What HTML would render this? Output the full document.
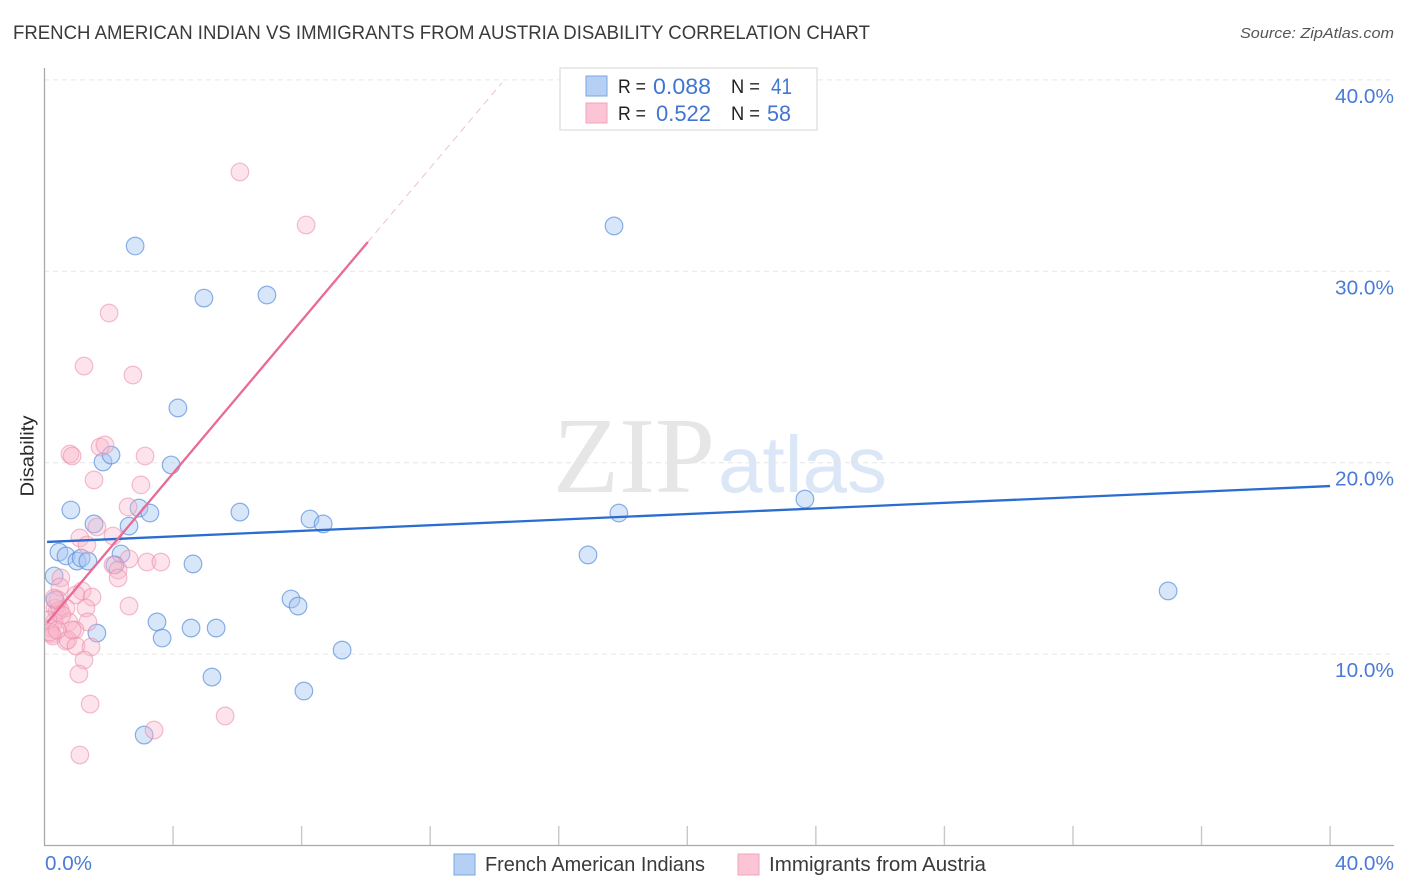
<!DOCTYPE html>
<html lang="en">
<head>
<meta charset="utf-8">
<title>French American Indian vs Immigrants from Austria Disability Correlation Chart</title>
<style>
html,body{margin:0;padding:0;background:#fff;}
svg{display:block;font-family:"Liberation Sans",sans-serif;}
</style>
</head>
<body>
<svg id="chart" xmlns="http://www.w3.org/2000/svg" width="1406" height="892" viewBox="0 0 1406 892">
  <defs>
    <clipPath id="plot-clip"><rect x="45" y="60" width="1349" height="786"/></clipPath>
  </defs>
  <rect width="1406" height="892" fill="#fff"/>
  <text x="13" y="39" font-size="19.5" fill="#3a3a3a" textLength="857" lengthAdjust="spacingAndGlyphs">FRENCH AMERICAN INDIAN VS IMMIGRANTS FROM AUSTRIA DISABILITY CORRELATION CHART</text>
  <text x="1394" y="38" font-size="15" font-style="italic" fill="#555" text-anchor="end" textLength="154" lengthAdjust="spacingAndGlyphs">Source: ZipAtlas.com</text>

  <g>
    <text x="553" y="492" font-family="'Liberation Serif',serif" font-size="108" fill="#e6e6e6" textLength="162" lengthAdjust="spacingAndGlyphs">ZIP</text>
    <text x="718" y="492" font-size="80" fill="#dbe7f7" textLength="169" lengthAdjust="spacingAndGlyphs">atlas</text>
  </g>

  <g id="grid"></g>
  <g id="axes"></g>
  <g id="ylabels"></g>
  <g id="xlabels"></g>
  <g id="blue-points" clip-path="url(#plot-clip)"></g>
  <g id="pink-points" clip-path="url(#plot-clip)"></g>
  <g id="trends"></g>

  <text transform="translate(33.5,456) rotate(-90)" font-size="18.5" fill="#2a2a2a" text-anchor="middle" textLength="81" lengthAdjust="spacingAndGlyphs">Disability</text>

  <g>
    <rect x="560" y="68" width="257" height="62" fill="#fff" stroke="#dcdcdc" stroke-width="1.2"/>
    <rect x="586" y="76" width="21" height="20" fill="#b5d0f4" stroke="#79a7e2" stroke-width="1"/>
    <rect x="586" y="103" width="21" height="20" fill="#fbc5d6" stroke="#f0a4bc" stroke-width="1"/>
    <text x="618" y="93" font-size="19" fill="#222" textLength="28" lengthAdjust="spacingAndGlyphs">R =</text>
    <text x="653" y="94" font-size="22" fill="#4076d2" textLength="58" lengthAdjust="spacingAndGlyphs">0.088</text>
    <text x="731" y="93" font-size="19" fill="#222" textLength="29" lengthAdjust="spacingAndGlyphs">N =</text>
    <text x="771" y="94" font-size="22" fill="#4076d2" textLength="21" lengthAdjust="spacingAndGlyphs">41</text>
    <text x="618" y="120" font-size="19" fill="#222" textLength="28" lengthAdjust="spacingAndGlyphs">R =</text>
    <text x="656" y="121" font-size="22" fill="#4076d2" textLength="55" lengthAdjust="spacingAndGlyphs">0.522</text>
    <text x="731" y="120" font-size="19" fill="#222" textLength="29" lengthAdjust="spacingAndGlyphs">N =</text>
    <text x="767" y="121" font-size="22" fill="#4076d2" textLength="24" lengthAdjust="spacingAndGlyphs">58</text>
  </g>

  <g>
    <rect x="454" y="854" width="21" height="21" fill="#b5d0f4" stroke="#79a7e2" stroke-width="1"/>
    <text x="485" y="871" font-size="20" fill="#3a3a3a" textLength="220" lengthAdjust="spacingAndGlyphs">French American Indians</text>
    <rect x="738" y="854" width="21" height="21" fill="#fbc5d6" stroke="#f0a4bc" stroke-width="1"/>
    <text x="769" y="871" font-size="20" fill="#3a3a3a" textLength="217" lengthAdjust="spacingAndGlyphs">Immigrants from Austria</text>
  </g>
</svg>

<script>
const yTicks = [10, 20, 30, 40];
const yTickLabels = ["10.0%", "20.0%", "30.0%", "40.0%"];
const xTicks = [0, 4, 8, 12, 16, 20, 24, 28, 32, 36, 40];
const xEndTicks = [0, 40];
const xEndLabels = ["0.0%", "40.0%"];

const blueX = [2.82,17.72,4.96,6.92,4.15,1.82,2.07,3.94,0.82,1.54,2.63,2.94,3.28,6.08,8.26,8.67,23.66,17.87,16.91,34.96,0.45,0.67,1.01,1.14,1.35,2.38,2.19,4.62,0.30,7.67,7.89,3.50,4.56,5.34,3.66,1.63,9.26,5.21,8.07,3.10,0.33];
const blueY = [31.32,32.37,28.60,28.76,22.86,20.04,20.40,19.88,17.53,16.80,16.69,17.63,17.37,17.42,17.06,16.80,18.10,17.37,15.18,13.30,15.33,15.13,14.86,15.02,14.86,15.23,14.66,14.71,14.08,12.88,12.51,11.68,11.36,11.36,10.84,11.10,10.21,8.80,8.07,5.77,12.83];

const pinkX = [6.08,8.14,2.01,1.23,2.75,0.79,0.86,1.73,1.88,3.13,1.54,3.00,2.60,1.63,1.10,1.32,2.13,2.63,3.19,3.62,2.13,2.29,2.29,0.51,0.48,1.17,0.98,1.48,2.63,1.29,0.67,0.33,0.39,0.48,0.76,1.35,0.95,0.30,0.17,0.23,0.26,0.67,0.73,0.98,1.45,1.23,1.07,1.42,3.41,5.62,1.10,0.42,0.30,0.54,0.11,0.86,0.17,0.39];
const pinkY = [35.19,32.42,27.82,25.05,24.58,20.45,20.35,20.82,20.93,20.35,19.10,18.84,17.69,16.64,16.07,15.70,16.17,14.97,14.81,14.81,14.66,14.39,13.98,13.98,13.51,13.30,13.09,12.98,12.51,12.41,12.41,12.41,12.20,12.30,11.68,11.68,11.26,11.68,11.36,11.05,10.95,10.68,10.74,10.42,10.37,9.69,8.96,7.39,6.03,6.77,4.73,12.83,12.93,12.04,11.78,11.26,11.15,11.26];

const blueTrendX = [0.08, 40];
const blueTrendY = [15.86, 18.78];
const pinkTrendX = [0.08, 10.06];
const pinkTrendY = [11.63, 31.53];
const pinkDashX = [10.06, 14.23];
const pinkDashY = [31.53, 39.85];

const NS = "http://www.w3.org/2000/svg";
function sx(v) { return 44.5 + v * 32.14; }
function sy(v) { return 845.5 - v * 19.14; }
function make(tag, attrs, parent) {
  const el = document.createElementNS(NS, tag);
  for (const k in attrs) el.setAttribute(k, attrs[k]);
  parent.appendChild(el);
  return el;
}

const grid = document.getElementById("grid");
const axes = document.getElementById("axes");
const ylabels = document.getElementById("ylabels");
const xlabels = document.getElementById("xlabels");
const bluePoints = document.getElementById("blue-points");
const pinkPoints = document.getElementById("pink-points");
const trends = document.getElementById("trends");

yTicks.forEach(function (t, i) {
  const line = make("line", {x1: 44, x2: 1394, y1: sy(t), y2: sy(t), stroke: "#e6e6e6", "stroke-width": 1, "stroke-dasharray": "5 4"}, grid);
  
  
  const label = make("text", {x: 1394, y: sy(t) + 23, "font-size": 20, fill: "#4a7bd6", "text-anchor": "end", textLength: 59, lengthAdjust: "spacingAndGlyphs"}, ylabels);
  
  
  label.textContent = yTickLabels[i];
});

const yAxis = make("line", {x1: 44.5, x2: 44.5, y1: 68, y2: 846, stroke: "#aaa", "stroke-width": 1.3}, axes);


const xAxis = make("line", {x1: 44, x2: 1394, y1: 845.5, y2: 845.5, stroke: "#aaa", "stroke-width": 1.3}, axes);



xTicks.forEach(function (t) {
  if (t === 0) return;
  const tick = make("line", {x1: sx(t), x2: sx(t), y1: 826, y2: 845, stroke: "#c8c8c8", "stroke-width": 1.4}, axes);
  
  
});

xEndTicks.forEach(function (t, i) {
  const label = make("text", {x: i === 0 ? sx(t) + 0.5 : 1394, y: 870, "font-size": 20, fill: "#4a7bd6", "text-anchor": i === 0 ? "start" : "end", textLength: i === 0 ? 47 : 59, lengthAdjust: "spacingAndGlyphs"}, xlabels);
  
  
  label.textContent = xEndLabels[i];
});

blueX.forEach(function (x, i) {
  const c = make("circle", {cx: sx(x), cy: sy(blueY[i]), r: 8.8, fill: "#a8c8f2", "fill-opacity": 0.45, stroke: "#5a90dc", "stroke-opacity": 0.7, "stroke-width": 1.2}, bluePoints);
  
  
});

pinkX.forEach(function (x, i) {
  const c = make("circle", {cx: sx(x), cy: sy(pinkY[i]), r: 8.8, fill: "#f9b6cb", "fill-opacity": 0.38, stroke: "#ea8aa8", "stroke-opacity": 0.55, "stroke-width": 1.2}, pinkPoints);
  
  
});

const blueTrend = make("line", {x1: sx(blueTrendX[0]), y1: sy(blueTrendY[0]), x2: sx(blueTrendX[1]), y2: sy(blueTrendY[1]), stroke: "#2a6dd0", "stroke-width": 2.3}, trends);


const pinkTrend = make("line", {x1: sx(pinkTrendX[0]), y1: sy(pinkTrendY[0]), x2: sx(pinkTrendX[1]), y2: sy(pinkTrendY[1]), stroke: "#e96a96", "stroke-width": 2.3}, trends);


const pinkDash = make("line", {x1: sx(pinkDashX[0]), y1: sy(pinkDashY[0]), x2: sx(pinkDashX[1]), y2: sy(pinkDashY[1]), stroke: "#f0c0d0", "stroke-width": 1, "stroke-dasharray": "7 5"}, trends);


</script>
</body>
</html>
